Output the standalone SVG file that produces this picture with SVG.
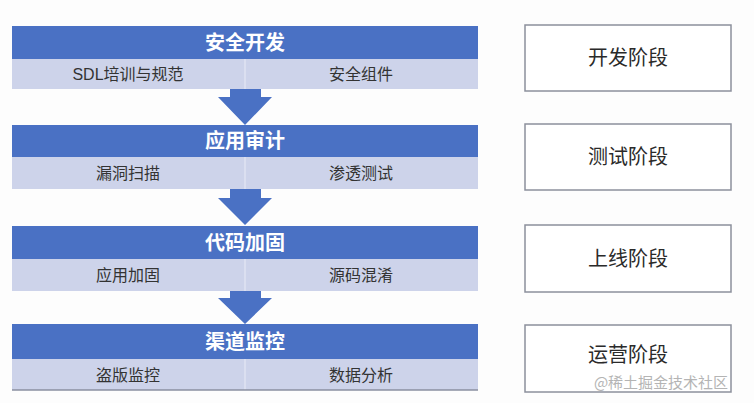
<svg xmlns="http://www.w3.org/2000/svg" width="754" height="403" viewBox="0 0 754 403">
<style>
.hdr{fill:#4a71c4}
.band{fill:#cdd3ea}
.div{stroke:#dfe3f2;stroke-width:1.5}
.ht{font-family:"Noto Sans CJK SC","Noto Sans",sans-serif;font-size:20px;font-weight:bold;fill:#ffffff;text-anchor:middle}
.bt{font-family:"Liberation Sans","Noto Sans CJK SC",sans-serif;font-size:16px;fill:#333333;text-anchor:middle}
.arrow{fill:#4a71c4}
.stage{fill:#ffffff;stroke:#8c909c;stroke-width:1.5}
.st{font-family:"Noto Sans CJK SC",sans-serif;font-size:20px;fill:#2a2a2a;text-anchor:middle}
.wm{font-family:"Noto Sans CJK SC",sans-serif;font-size:15px;fill:#b4b4b4;text-anchor:middle}
</style>
<rect width="754" height="403" fill="#fdfdfd"/>
<g id="connectors">
<path class="arrow" d="M230,89 H261 V97 H272 L245,125 L218,97 H230 Z"/>
<path class="arrow" d="M230,189 H261 V198 H272 L245,225 L218,198 H230 Z"/>
<path class="arrow" d="M230,291 H261 V298 H272 L245,324 L218,298 H230 Z"/>
</g>
<g id="node-dev">
<rect class="hdr" x="12" y="26" width="466" height="33"/>
<rect class="band" x="12" y="59" width="466" height="30"/>
<line class="div" x1="245" y1="59" x2="245" y2="89"/>
<text class="ht" x="245" y="50">安全开发</text>
<text class="bt" x="128" y="80">SDL培训与规范</text>
<text class="bt" x="361" y="80">安全组件</text>
</g>
<g id="node-audit">
<rect class="hdr" x="12" y="125" width="466" height="32"/>
<rect class="band" x="12" y="157" width="466" height="32"/>
<line class="div" x1="245" y1="157" x2="245" y2="189"/>
<text class="ht" x="245" y="148">应用审计</text>
<text class="bt" x="128" y="179">漏洞扫描</text>
<text class="bt" x="361" y="179">渗透测试</text>
</g>
<g id="node-harden">
<rect class="hdr" x="12" y="226" width="466" height="33"/>
<rect class="band" x="12" y="259" width="466" height="32"/>
<line class="div" x1="245" y1="259" x2="245" y2="291"/>
<text class="ht" x="245" y="250">代码加固</text>
<text class="bt" x="128" y="281">应用加固</text>
<text class="bt" x="361" y="281">源码混淆</text>
</g>
<g id="node-monitor">
<rect class="hdr" x="12" y="324" width="466" height="35"/>
<rect class="band" x="12" y="359" width="466" height="31"/>
<line class="div" x1="245" y1="359" x2="245" y2="390"/>
<line x1="12" y1="390" x2="478" y2="390" stroke="#8a8fa0" stroke-width="1.5"/>
<text class="ht" x="245" y="349">渠道监控</text>
<text class="bt" x="128" y="381">盗版监控</text>
<text class="bt" x="361" y="381">数据分析</text>
</g>
<g id="stage-dev">
<rect class="stage" x="525" y="25" width="206" height="66"/>
<text class="st" x="628" y="65">开发阶段</text>
</g>
<g id="stage-test">
<rect class="stage" x="525" y="124" width="206" height="66"/>
<text class="st" x="628" y="164">测试阶段</text>
</g>
<g id="stage-online">
<rect class="stage" x="525" y="225" width="206" height="67"/>
<text class="st" x="628" y="266">上线阶段</text>
</g>
<g id="stage-ops">
<rect class="stage" x="525" y="325" width="206" height="67"/>
<text class="st" x="628" y="362">运营阶段</text>
</g>
<text class="wm" x="661" y="388">@稀土掘金技术社区</text>
</svg>
